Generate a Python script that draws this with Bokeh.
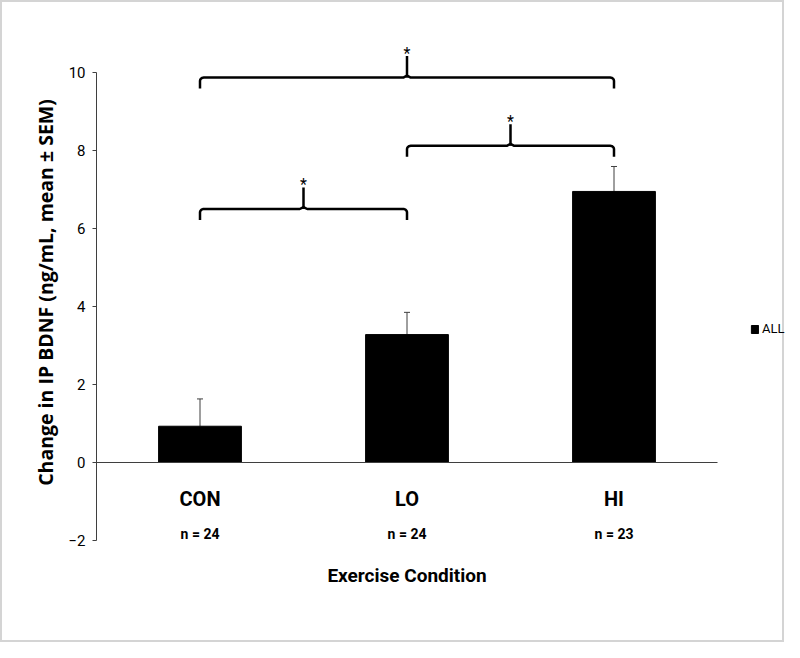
import numpy as np
from bokeh.plotting import figure
from bokeh.models import (Range1d, LinearAxis, FixedTicker, Whisker, TeeHead, ColumnDataSource,
                          Legend, LegendItem)
from bokeh.core.properties import value
from bokeh.embed import file_html
from bokeh.resources import INLINE

# ---------------- data ----------------
categories = ["CON", "LO", "HI"]
n_labels = ["n = 24", "n = 24", "n = 23"]
means = [0.93, 3.28, 6.95]
sems = [0.70, 0.57, 0.64]
y_ticks = [-2, 0, 2, 4, 6, 8, 10]
bracket_from = [0, 1, 0]
bracket_to = [1, 2, 2]
bracket_level = [6.50, 8.12, 9.87]
bracket_marks = ["*", "*", "*"]
series_name = "ALL"
x_title = "Exercise Condition"
y_title = "Change in IP BDNF (ng/mL, mean \u00b1 SEM)"

FONT = "Roboto"
AXIS_COLOR = "#3f3f3f"
PX_X = 207.0   # pixels per category
PX_Y = 39.0    # pixels per y unit

xc = [i + 0.5 for i in range(len(categories))]

p = figure(width=784, height=642, output_backend="svg", toolbar_location=None,
           x_range=Range1d(-92 / PX_X, 690 / PX_X), y_range=Range1d(-138 / PX_Y, 10 + 42 / PX_Y),
           x_axis_location=None, y_axis_location=None,
           min_border_left=2, min_border_right=0, min_border_top=28, min_border_bottom=44)
p.grid.visible = False
p.outline_line_color = None
p.background_fill_color = "white"
p.border_fill_color = "white"
p.styles = {"border": "2px solid #d4d4d4"}

# bars
src = ColumnDataSource(dict(x=xc, top=means, upper=[m + s for m, s in zip(means, sems)],
                            cat=categories, n=n_labels))
bars = p.vbar(x="x", top="top", bottom=0, width=0.4, source=src,
              fill_color="black", line_color="black")

# error bars (upper only)
p.add_layout(Whisker(base="x", lower="top", upper="upper", source=src,
                     line_color=AXIS_COLOR, line_width=1,
                     lower_head=None,
                     upper_head=TeeHead(size=6, line_color=AXIS_COLOR, line_width=1)))

# x axis on the zero line
xaxis = LinearAxis(fixed_location=0, ticker=FixedTicker(ticks=xc), bounds=(0, 3),
                   major_label_overrides={x: c for x, c in zip(xc, categories)})
xaxis.axis_line_color = AXIS_COLOR
xaxis.axis_line_width = 1
xaxis.major_tick_line_color = None
xaxis.minor_tick_line_color = None
xaxis.major_label_standoff = 18
xaxis.major_label_text_font = FONT
xaxis.major_label_text_font_style = "bold"
xaxis.major_label_text_font_size = "20px"
xaxis.major_label_text_color = "black"
p.add_layout(xaxis, "below")

# y axis at x = 0 (left edge of the first category)
yaxis = LinearAxis(fixed_location=0, ticker=FixedTicker(ticks=y_ticks), bounds=(-2, 10))
yaxis.axis_line_color = AXIS_COLOR
yaxis.major_tick_line_color = AXIS_COLOR
yaxis.major_tick_out = 4
yaxis.major_tick_in = 0
yaxis.minor_tick_line_color = None
yaxis.major_label_standoff = 7
yaxis.major_label_text_font = FONT
yaxis.major_label_text_font_size = "15px"
yaxis.major_label_text_color = "black"
p.add_layout(yaxis, "left")

# y axis title
p.text(x=[-51 / PX_X], y=[170 / PX_Y], text=[y_title], angle=np.pi / 2,
       text_font=value("Open Sans"), text_font_style="bold", text_font_size="19.5px",
       text_align="center", text_baseline="middle", text_color="black")

# n labels
p.text(x="x", y=-1.83, text="n", source=src, text_font=value(FONT), text_font_style="bold",
       text_font_size="14px", text_align="center", text_baseline="middle", text_color="black")

# x axis title
p.text(x=[xc[1]], y=[-2.9], text=[x_title], text_font=value(FONT), text_font_style="bold",
       text_font_size="19px", text_align="center", text_baseline="middle", text_color="black")

# significance brackets
drop, tip, rx, ry = 0.28, 0.55, 0.018, 0.09
xs, ys, tx, ty = [], [], [], []
for a, b, lvl in zip(bracket_from, bracket_to, bracket_level):
    xa, xb = xc[a], xc[b]
    xm = (xa + xb) / 2
    t = np.linspace(np.pi, np.pi / 2, 8)
    lx = list(xa + rx + rx * np.cos(t)); ly = list(lvl - ry + ry * np.sin(t))
    t2 = np.linspace(np.pi / 2, 0, 8)
    rxs = list(xb - rx + rx * np.cos(t2)); rys = list(lvl - ry + ry * np.sin(t2))
    px = [xa] + lx + [xm - rx, xm, xm + rx] + rxs + [xb]
    py = [lvl - drop] + ly + [lvl, lvl + 0.05, lvl] + rys + [lvl - drop]
    xs.append(px); ys.append(py)
    xs.append([xm, xm]); ys.append([lvl, lvl + tip])
    tx.append(xm); ty.append(lvl + tip + 0.08)
p.multi_line(xs=xs, ys=ys, line_color="black", line_width=2.5, line_join="round")
p.text(x=tx, y=ty, text=bracket_marks, text_font=value(FONT), text_font_size="16px",
       text_align="center", text_baseline="alphabetic", text_color="black")

# legend
legend = Legend(items=[LegendItem(label=series_name, renderers=[bars])], location=(746, 264),
                glyph_width=9, glyph_height=10, label_standoff=3, padding=0, margin=0, spacing=0,
                border_line_color=None, background_fill_alpha=0,
                label_text_font=FONT, label_text_font_size="13px", label_text_color="black")
p.add_layout(legend)

open("out.html", "w").write(file_html(p, INLINE))
